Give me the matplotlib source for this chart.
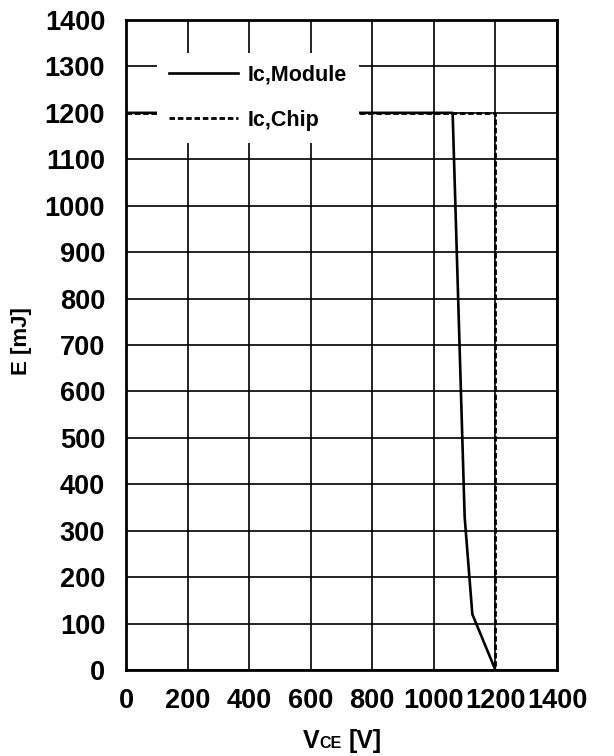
import matplotlib
matplotlib.use("Agg")
import matplotlib.pyplot as plt

plt.rcParams["font.family"] = ["Liberation Sans", "DejaVu Sans"]
plt.rcParams["font.weight"] = "bold"

# RBSOA curves
module_vce = [0, 1061, 1100, 1125, 1200]
module_e = [1200, 1200, 330, 120, 0]
chip_vce = [0, 1200, 1200]
chip_e = [1200, 1200, 0]

x_ticks = [0, 200, 400, 600, 800, 1000, 1200, 1400]
y_ticks = list(range(0, 1401, 100))

W, H = 614, 756
fig = plt.figure(figsize=(W / 100, H / 100), dpi=100)
ax = fig.add_axes([126 / W, 1 - 670 / H, 431 / W, 650 / H])

ax.plot(module_vce, module_e, color="black", lw=1.9, label="Ic,Module", zorder=3)
ax.plot(chip_vce, chip_e, color="black", lw=2.0, ls=(0, (2.0, 1.0)), label="Ic,Chip", zorder=3)

ax.set_xlim(0, 1400)
ax.set_ylim(0, 1400)
ax.set_xticks(x_ticks)
ax.set_yticks(y_ticks)
ax.set_xticklabels([str(v) for v in x_ticks])
ax.set_yticklabels([str(v) for v in y_ticks])
ax.grid(True, color="black", lw=1.2)
ax.set_axisbelow(True)
for s in ax.spines.values():
    s.set_linewidth(2)
ax.tick_params(axis="both", length=0, labelsize=19.5)
ax.tick_params(axis="x", pad=13)
ax.tick_params(axis="y", pad=15)

leg = ax.legend(loc="upper left", bbox_to_anchor=(0.072, 0.949), frameon=True,
                fancybox=False, edgecolor="none", framealpha=1, fontsize=15.5,
                handlelength=3.2, handletextpad=0.45, borderpad=0.55,
                labelspacing=1.1, borderaxespad=0)
leg.get_frame().set_linewidth(0)

# axis labels
fig.text(22 / W, 1 - 341 / H, "E [mJ]", rotation=90, ha="center", va="center",
         fontsize=16, fontweight="bold")
base = 8 / H
fig.text(303 / W, base, "V", ha="left", va="baseline", fontsize=18, fontweight="bold")
fig.text(319 / W, base, "CE", ha="left", va="baseline", fontsize=11.5, fontweight="bold")
fig.text(349 / W, base, "[V]", ha="left", va="baseline", fontsize=18, fontweight="bold")

fig.savefig("out.png", dpi=100)
